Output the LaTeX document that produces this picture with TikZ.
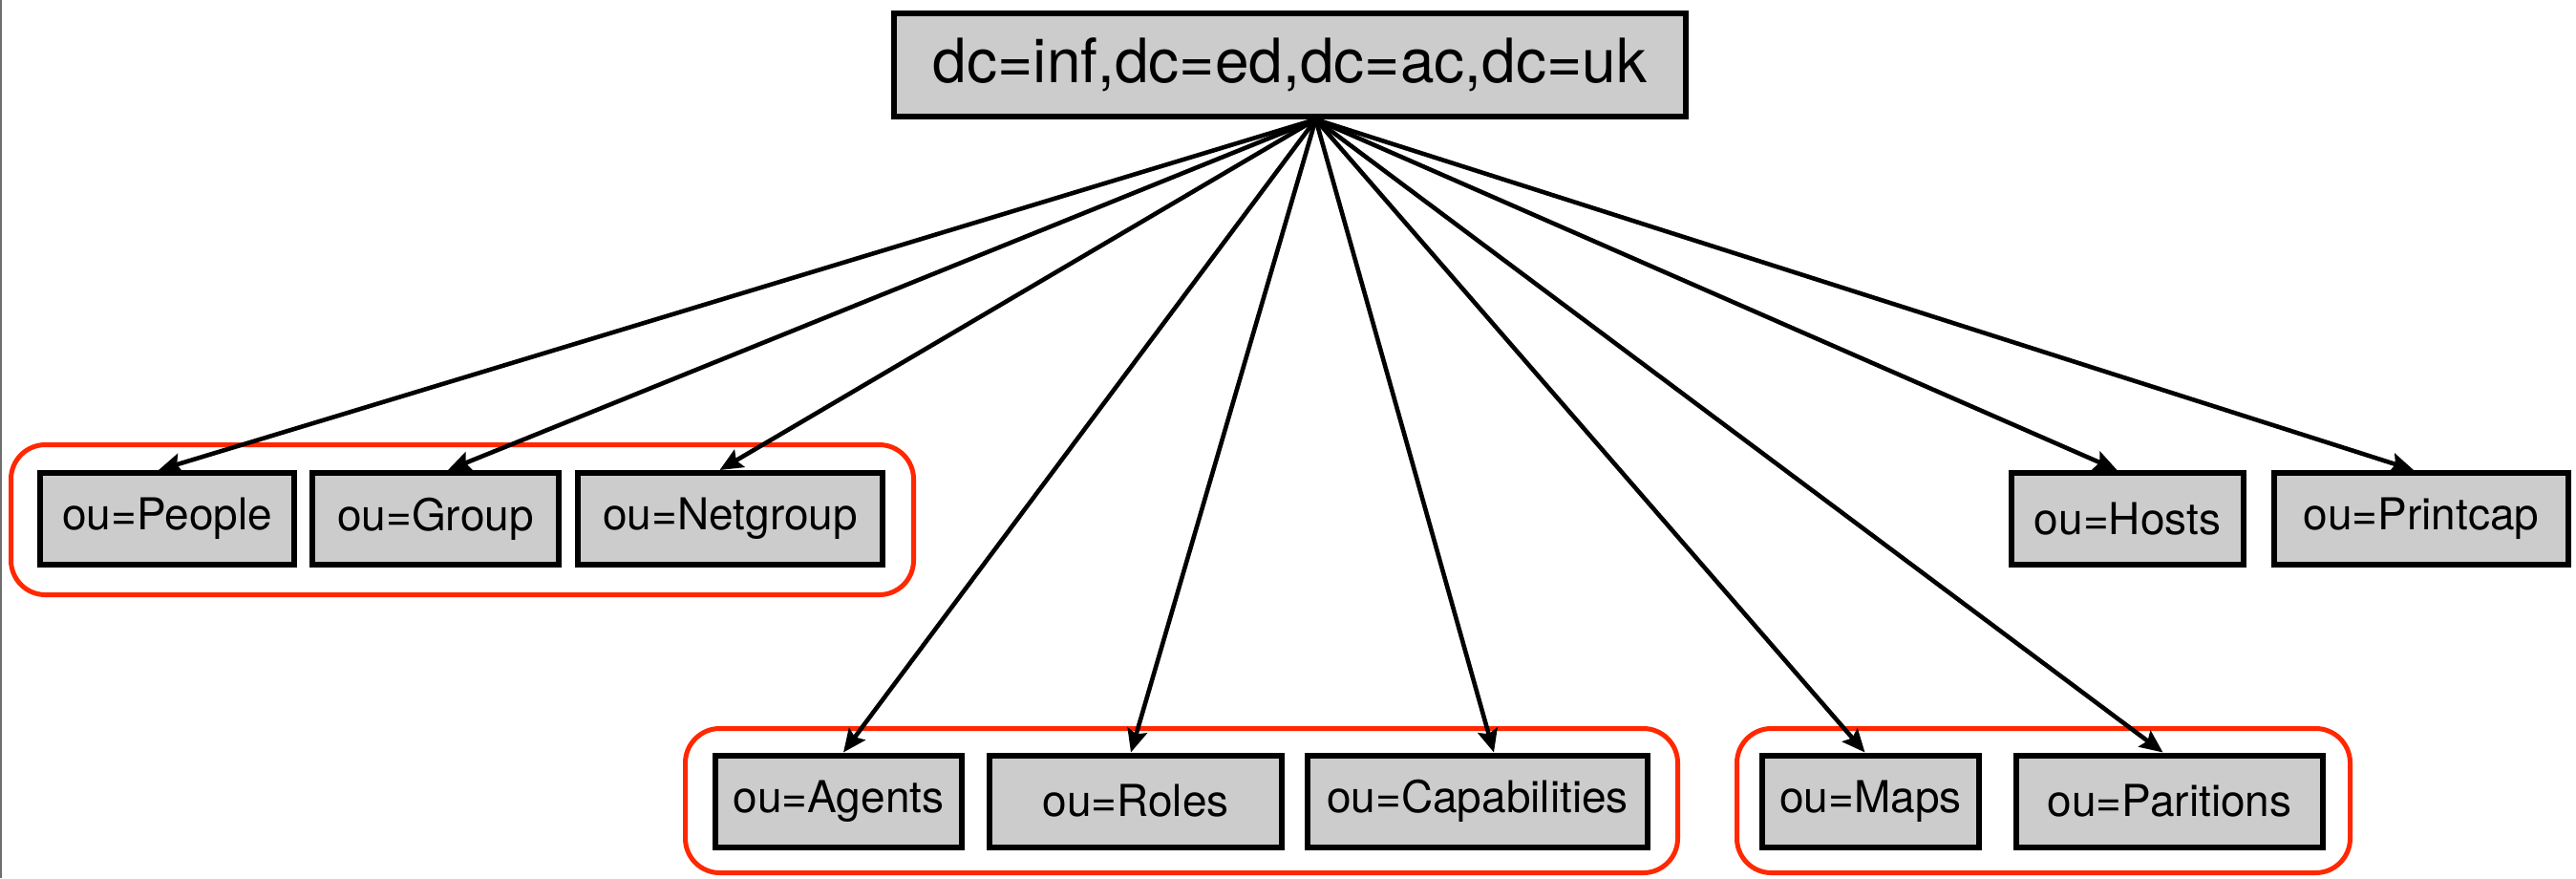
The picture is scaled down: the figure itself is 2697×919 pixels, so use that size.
\documentclass[tikz,border=0pt]{standalone}
\usepackage{fontspec}
\setmainfont{TeX Gyre Heros}
\usetikzlibrary{arrows.meta}
\definecolor{boxgray}{RGB}{204,204,204}
\definecolor{grpred}{RGB}{255,40,0}
\definecolor{edgegray}{RGB}{110,110,110}
\tikzset{
  entry/.style={draw=black, line width=6pt, fill=boxgray, inner sep=0pt,
    minimum height=96pt, font=\fontsize{46}{50}\selectfont},
  rootentry/.style={entry, minimum height=108pt, font=\fontsize{64}{70}\selectfont},
  link/.style={line width=4.6pt, -{Stealth[length=24pt, width=21pt, inset=4pt]}},
  group/.style={draw=grpred, line width=5pt, rounded corners=36pt}
}
\begin{document}
\begin{tikzpicture}[x=1pt, y=-1pt]
\useasboundingbox (0,0) rectangle (2697,919);
\draw[edgegray, line width=2pt] (1,0) -- (1,919);

% group frames
\draw[group] (11.5,465.5) rectangle (956.5,622.5);
\draw[group] (717.5,762.5) rectangle (1756.5,913.5);
\draw[group] (1818.5,762.5) rectangle (2460.5,913.5);

% directory entries
\node[rootentry, minimum width=829pt] (root) at (1350.5,68) {dc=inf,dc=ed,dc=ac,dc=uk};

\node[entry, minimum width=266pt] (people)   at (175,543)   {ou=People};
\node[entry, minimum width=258pt] (group)    at (456,543)   {ou=Group};
\node[entry, minimum width=319pt] (netgroup) at (764.5,543) {ou=Netgroup};
\node[entry, minimum width=243pt] (hosts)    at (2227.5,543) {ou=Hosts};
\node[entry, minimum width=308pt] (printcap) at (2535,543)  {ou=Printcap};

\node[entry, minimum width=258pt] (agents) at (878,838.5)   {ou=Agents};
\node[entry, minimum width=306pt] (roles)  at (1189,838.5)  {ou=Roles};
\node[entry, minimum width=356pt] (caps)   at (1547,838.5)  {ou=Capabilities};
\node[entry, minimum width=227pt] (maps)   at (1958.5,838.5) {ou=Maps};
\node[entry, minimum width=321pt] (parts)  at (2271.5,838.5) {ou=Paritions};

% links from the root
\coordinate (src) at ([xshift=27pt]root.south);
\draw[link] (src) -- ([xshift=-9pt]people.north);
\draw[link] (src) -- ([xshift=13pt]group.north);
\draw[link] (src) -- ([xshift=-11pt]netgroup.north);
\draw[link] (src) -- ([xshift=5pt]agents.north);
\draw[link] (src) -- ([xshift=-5pt]roles.north);
\draw[link] (src) -- ([xshift=17pt]caps.north);
\draw[link] (src) -- ([xshift=-6pt]maps.north);
\draw[link] (src) -- ([xshift=-7pt]parts.north);
\draw[link] (src) -- ([xshift=-11pt]hosts.north);
\draw[link] (src) -- ([xshift=-8pt]printcap.north);
\end{tikzpicture}
\end{document}
